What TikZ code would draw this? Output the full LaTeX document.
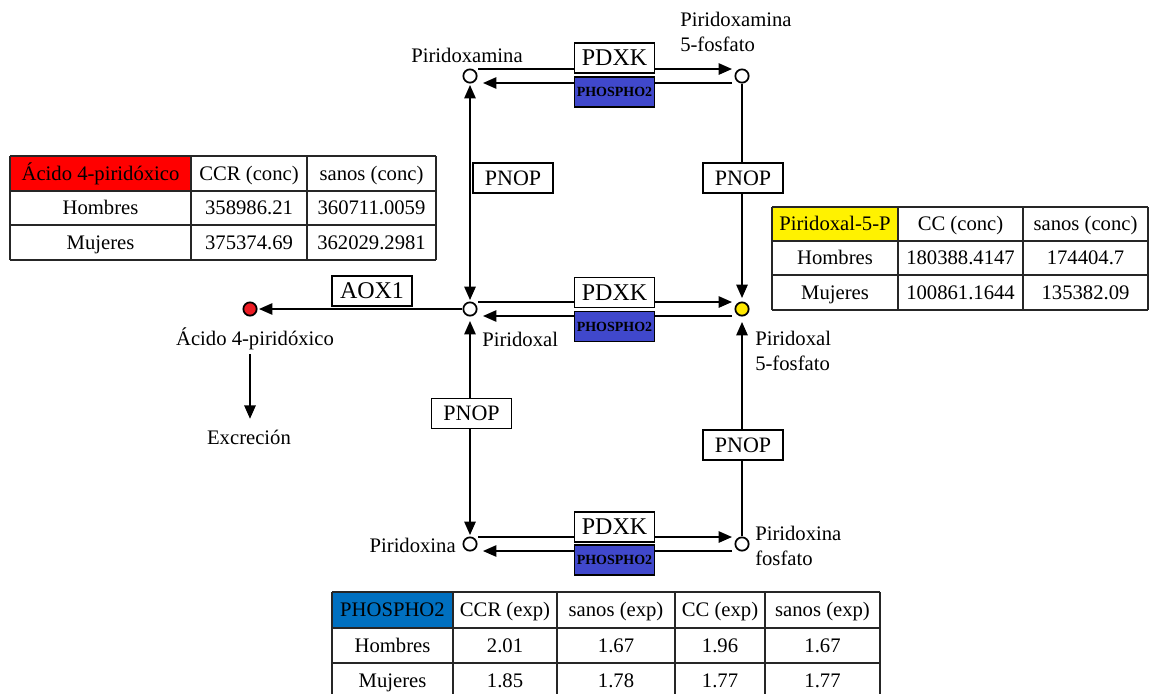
\documentclass[tikz,border=0pt]{standalone}
\usepackage{fontspec}
\setmainfont{Liberation Serif}
\usetikzlibrary{arrows.meta}
\definecolor{phblue}{RGB}{64,72,204}
\definecolor{hdblue}{RGB}{0,112,192}
\definecolor{cpdred}{RGB}{237,28,36}
\definecolor{cpdyellow}{RGB}{255,232,0}
\tikzset{
  cpd/.style = {circle, draw, line width=1.3pt, fill=white, minimum size=10pt, inner sep=0pt},
  enz/.style = {draw, line width=1.1pt, fill=white, minimum width=60pt, minimum height=22.5pt,
                inner sep=0pt, font=\fontsize{18}{18}\selectfont},
  phos/.style = {enz, fill=phblue, font=\fontsize{10.5}{10.5}\selectfont\bfseries},
  pnop/.style = {enz, font=\fontsize{16.5}{16.5}\selectfont},
  lbl/.style = {inner sep=0pt, font=\fontsize{15.5}{18.6}\selectfont},
  cell/.style = {inner sep=0pt, text height=13pt, text depth=3pt, font=\fontsize{15.5}{15.5}\selectfont},
  tbl/.style = {line width=1.2pt, black!85},
  rxn/.style = {line width=1.2pt, -{Triangle[length=10pt,width=8.5pt]}},
  rxn2/.style = {line width=1.2pt, {Triangle[length=10pt,width=8.5pt]}-{Triangle[length=10pt,width=8.5pt]}}
}

\begin{document}
\begin{tikzpicture}[x=0.75pt, y=-0.75pt]
  \useasboundingbox (0,0) rectangle (1162,693);

  % compuestos
  \node[cpd] (pm) at (470,76) {};
  \node[cpd] (pmp) at (742,76) {};
  \node[cpd] (pl) at (470,309) {};
  \node[cpd, fill=cpdyellow] (plp) at (742,309) {};
  \node[cpd] (pn) at (470,544) {};
  \node[cpd] (pnp) at (742,544) {};
  \node[cpd, fill=cpdred] (ac) at (250,309) {};

  \node[lbl] (pmlbl) at (467,55) {Piridoxamina};
  \node[lbl, align=left, anchor=west] (pmplbl) at (680,32) {Piridoxamina\\5-fosfato};
  \node[lbl, anchor=west] (pllbl) at (482,339) {Piridoxal};
  \node[lbl, align=left, anchor=west] (plplbl) at (755,351) {Piridoxal\\5-fosfato};
  \node[lbl, anchor=east] (pnlbl) at (456,545) {Piridoxina};
  \node[lbl, align=left, anchor=west] (pnplbl) at (755,546) {Piridoxina\\fosfato};
  \node[lbl] (aclbl) at (255,339) {Ácido 4-piridóxico};
  \node[lbl] (exc) at (249,437) {Excreción};

  % reacciones
  \draw[rxn] ([shift={(8,-7)}]pm.center) -- ([shift={(-10,-7)}]pmp.center);
  \draw[rxn] ([shift={(-10,7)}]pmp.center) -- ([shift={(13,7)}]pm.center);
  \draw[rxn] ([shift={(8,-7)}]pl.center) -- ([shift={(-10,-7)}]plp.center);
  \draw[rxn] ([shift={(-10,7)}]plp.center) -- ([shift={(13,7)}]pl.center);
  \draw[rxn] ([shift={(8,-7)}]pn.center) -- ([shift={(-10,-7)}]pnp.center);
  \draw[rxn] ([shift={(-10,7)}]pnp.center) -- ([shift={(13,7)}]pn.center);

  \draw[rxn2] ([shift={(0,9)}]pm.center) -- ([shift={(0,-9)}]pl.center);
  \draw[rxn] (pmp) -- ([shift={(0,-11)}]plp.center);
  \draw[rxn2] ([shift={(0,12)}]pl.center) -- ([shift={(0,-9)}]pn.center);
  \draw[rxn] (pnp) -- ([shift={(0,13)}]plp.center);
  \draw[rxn] (pl) -- ([shift={(9,0)}]ac.center);
  \draw[rxn] ([yshift=-3pt]aclbl.south -| ac.center) -- ([yshift=8pt]exc.north -| ac.center);

  % enzimas
  \node[enz] (pdxk1) at (614.5,58) {PDXK};
  \node[phos] (ph1) at (614.5,92) {PHOSPHO2};
  \node[enz] (pdxk2) at (614.5,292.5) {PDXK};
  \node[phos] (ph2) at (614.5,326.5) {PHOSPHO2};
  \node[enz] (pdxk3) at (614.5,527) {PDXK};
  \node[phos] (ph3) at (614.5,560) {PHOSPHO2};
  \node[pnop] (pnop1) at (513,178) {PNOP};
  \node[pnop] (pnop2) at (743,178) {PNOP};
  \node[pnop] (pnop3) at (471.5,413.5) {PNOP};
  \node[pnop] (pnop4) at (743,445) {PNOP};
  \node[enz] (aox) at (372,291) {AOX1};

  % tabla acido 4-piridoxico
  \fill[red] (10,156) rectangle (191,191);
  \foreach \x in {10,191,307,436} \draw[tbl] (\x,156) -- (\x,260);
  \foreach \y in {156,191,225,260} \draw[tbl] (10,\y) -- (436,\y);
  \node[cell] (ta11) at (100.5,173.5) {Ácido 4-piridóxico};
  \node[cell] (ta12) at (249,173.5) {CCR (conc)};
  \node[cell] (ta13) at (371.5,173.5) {sanos (conc)};
  \node[cell] (ta21) at (100.5,208) {Hombres};
  \node[cell] (ta22) at (249,208) {358986.21};
  \node[cell] (ta23) at (371.5,208) {360711.0059};
  \node[cell] (ta31) at (100.5,242.5) {Mujeres};
  \node[cell] (ta32) at (249,242.5) {375374.69};
  \node[cell] (ta33) at (371.5,242.5) {362029.2981};

  % tabla piridoxal-5-P
  \fill[yellow] (772,207) rectangle (898,241);
  \foreach \x in {772,898,1023,1148} \draw[tbl] (\x,207) -- (\x,310);
  \foreach \y in {207,241,275,310} \draw[tbl] (772,\y) -- (1148,\y);
  \node[cell] (tb11) at (835,224) {Piridoxal-5-P};
  \node[cell] (tb12) at (960.5,224) {CC (conc)};
  \node[cell] (tb13) at (1085.5,224) {sanos (conc)};
  \node[cell] (tb21) at (835,258) {Hombres};
  \node[cell] (tb22) at (960.5,258) {180388.4147};
  \node[cell] (tb23) at (1085.5,258) {174404.7};
  \node[cell] (tb31) at (835,292.5) {Mujeres};
  \node[cell] (tb32) at (960.5,292.5) {100861.1644};
  \node[cell] (tb33) at (1085.5,292.5) {135382.09};

  % tabla PHOSPHO2
  \fill[hdblue] (332,592) rectangle (453,628);
  \foreach \x in {332,453,557,675,765,880} \draw[tbl] (\x,592) -- (\x,698);
  \foreach \y in {592,628,663,698} \draw[tbl] (332,\y) -- (880,\y);
  \node[cell] (tc11) at (392.5,610) {PHOSPHO2};
  \node[cell] (tc12) at (505,610) {CCR (exp)};
  \node[cell] (tc13) at (616,610) {sanos (exp)};
  \node[cell] (tc14) at (720,610) {CC (exp)};
  \node[cell] (tc15) at (822.5,610) {sanos (exp)};
  \node[cell] (tc21) at (392.5,645.5) {Hombres};
  \node[cell] (tc22) at (505,645.5) {2.01};
  \node[cell] (tc23) at (616,645.5) {1.67};
  \node[cell] (tc24) at (720,645.5) {1.96};
  \node[cell] (tc25) at (822.5,645.5) {1.67};
  \node[cell] (tc31) at (392.5,680.5) {Mujeres};
  \node[cell] (tc32) at (505,680.5) {1.85};
  \node[cell] (tc33) at (616,680.5) {1.78};
  \node[cell] (tc34) at (720,680.5) {1.77};
  \node[cell] (tc35) at (822.5,680.5) {1.77};
\end{tikzpicture}
\end{document}
